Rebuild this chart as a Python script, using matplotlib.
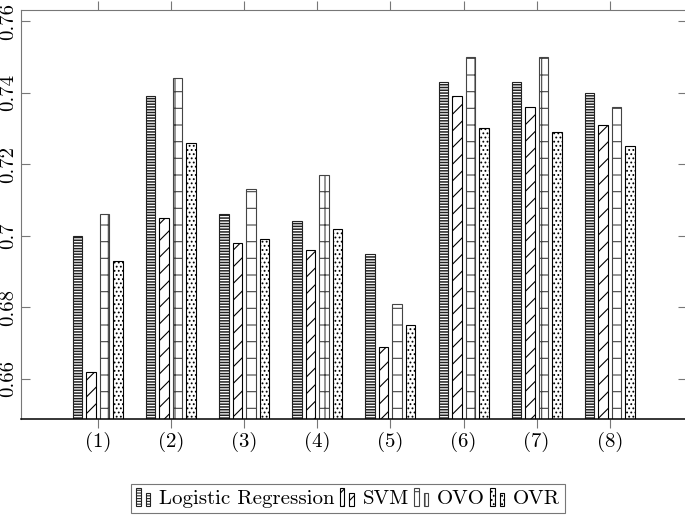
import matplotlib
matplotlib.use("Agg")
import matplotlib.pyplot as plt
import numpy as np
from matplotlib.patches import Rectangle
from matplotlib.legend_handler import HandlerBase

plt.rcParams['font.family'] = ['cmr10', 'DejaVu Serif']
plt.rcParams['axes.formatter.use_mathtext'] = True
plt.rcParams['hatch.linewidth'] = 0.8

categories = ["(1)", "(2)", "(3)", "(4)", "(5)", "(6)", "(7)", "(8)"]
series_names = ["Logistic Regression", "SVM", "OVO", "OVR"]
lr = [0.700, 0.739, 0.706, 0.704, 0.695, 0.743, 0.743, 0.740]
svm = [0.662, 0.705, 0.698, 0.696, 0.669, 0.739, 0.736, 0.731]
ovo = [0.706, 0.744, 0.713, 0.717, 0.681, 0.750, 0.750, 0.736]
ovr = [0.693, 0.726, 0.699, 0.702, 0.675, 0.730, 0.729, 0.725]
yticks = [0.66, 0.68, 0.70, 0.72, 0.74, 0.76]
ytick_labels = ["0.66", "0.68", "0.7", "0.72", "0.74", "0.76"]

styles = [
    dict(hatch='------', edgecolor='#222222'),
    dict(hatch='//', edgecolor='black'),
    dict(hatch='+', edgecolor='#444444'),
    dict(hatch='....', edgecolor='black'),
]
hatch_lw = [1.1, 0.8, 0.8, 0.8]

fig = plt.figure(figsize=(6.85, 5.16), dpi=100)
ax = fig.add_axes([21/685, 97/516, 665.6/685, 409/516])

x = np.arange(1, len(categories) + 1)
step = 0.1846
width = 0.13
handles = []
for i, (vals, st) in enumerate(zip([lr, svm, ovo, ovr], styles)):
    with plt.rc_context({'hatch.linewidth': hatch_lw[i]}):
        b = ax.bar(x + (i - 1.5) * step, vals, width, facecolor='white',
                   linewidth=0.8, label=series_names[i], **st)
    handles.append(b.patches[0])

ax.set_xlim(-0.05, 9.05)
ax.set_ylim(0.6488, 0.7631)
ax.set_xticks(x)
ax.set_xticklabels(categories, fontsize=15)
ax.set_yticks(yticks)
ax.set_yticklabels(ytick_labels, rotation=90, va='center', fontsize=15)

ax.tick_params(axis='y', direction='in', left=True, right=True, length=6.5,
               color='#777777', width=0.8, pad=3)
ax.tick_params(axis='x', direction='out', top=True, bottom=True, length=6.5,
               color='#777777', width=0.8, pad=3)
for s in ['left', 'top', 'right']:
    ax.spines[s].set_color('#777777')
    ax.spines[s].set_linewidth(0.8)
ax.spines['bottom'].set_color('black')
ax.spines['bottom'].set_linewidth(1.1)


class TwoBarHandler(HandlerBase):
    def create_artists(self, legend, orig_handle, xdescent, ydescent,
                       width, height, fontsize, trans):
        w = width * 0.3
        y0 = -ydescent - height * 0.15
        r1 = Rectangle((-xdescent, y0), w, height * 1.25)
        r2 = Rectangle((-xdescent + width * 0.62, y0), w, height * 0.9)
        arts = []
        for r in (r1, r2):
            r.set_facecolor('white')
            r.set_edgecolor(orig_handle.get_edgecolor())
            r.set_hatch(orig_handle.get_hatch())
            r.set_linewidth(0.8)
            r.set_transform(trans)
            arts.append(r)
        return arts


leg = fig.legend(handles, series_names, loc='center',
                 bbox_to_anchor=(348/685, 17.5/516), ncol=4, fontsize=15,
                 handler_map={h: TwoBarHandler() for h in handles},
                 handlelength=0.75, handletextpad=0.35, columnspacing=0.25,
                 borderpad=0.25, fancybox=False, framealpha=1,
                 edgecolor='#777777')
leg.get_frame().set_linewidth(0.8)

fig.savefig("out.png", dpi=100)
